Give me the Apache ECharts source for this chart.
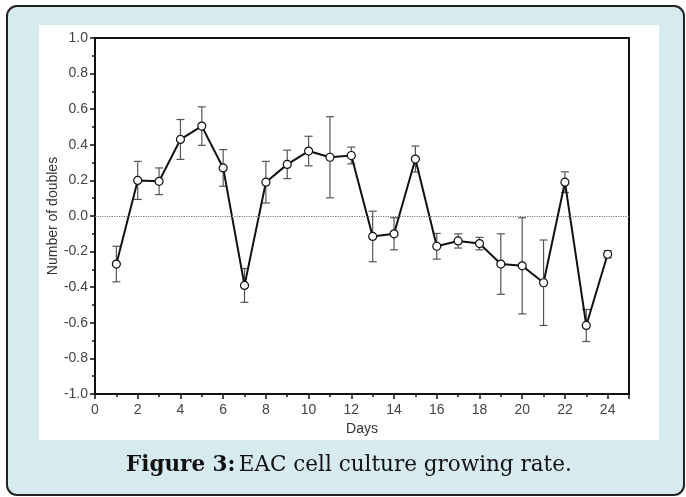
<!DOCTYPE html>
<html>
<head>
<meta charset="utf-8">
<script src="https://cdn.jsdelivr.net/npm/echarts@6/dist/echarts.min.js"></script>
<style>
  html, body { margin: 0; padding: 0; background: #fff; }
  #main { width: 686px; height: 497px; }
</style>
</head>
<body>
<div id="main"></div>
<script>
// data
var days = [1, 2, 3, 4, 5, 6, 7, 8, 9, 10, 11, 12, 13, 14, 15, 16, 17, 18, 19, 20, 21, 22, 23, 24];
var doubles = [-0.27, 0.20, 0.195, 0.43, 0.505, 0.27, -0.39, 0.19, 0.29, 0.365, 0.33, 0.34,
               -0.115, -0.10, 0.32, -0.17, -0.14, -0.155, -0.27, -0.28, -0.375, 0.19, -0.615, -0.215];
var errors = [0.10, 0.107, 0.075, 0.112, 0.108, 0.103, 0.095, 0.117, 0.08, 0.083, 0.228, 0.047,
              0.142, 0.09, 0.073, 0.072, 0.04, 0.035, 0.17, 0.27, 0.24, 0.058, 0.09, 0.02];
var xTickLabels = ['0', '2', '4', '6', '8', '10', '12', '14', '16', '18', '20', '22', '24'];

var myChart = echarts.init(document.getElementById('main'));

var lineData = days.map(function (d, i) { return [d, doubles[i]]; });
var errData = days.map(function (d, i) { return [d, doubles[i] - errors[i], doubles[i] + errors[i]]; });

function renderErr(params, api) {
    var x = api.value(0);
    var lo = api.coord([x, api.value(1)]);
    var hi = api.coord([x, api.value(2)]);
    var hw = 4;
    var st = { stroke: '#555', lineWidth: 1.2 };
    return {
        type: 'group',
        children: [
            { type: 'line', shape: { x1: hi[0], y1: hi[1], x2: lo[0], y2: lo[1] }, style: st },
            { type: 'line', shape: { x1: hi[0] - hw, y1: hi[1], x2: hi[0] + hw, y2: hi[1] }, style: st },
            { type: 'line', shape: { x1: lo[0] - hw, y1: lo[1], x2: lo[0] + hw, y2: lo[1] }, style: st }
        ]
    };
}

var font = 'Liberation Sans';

var option = {
    animation: false,
    graphic: [
        { // outer frame
            type: 'rect', z: -10,
            shape: { x: 7, y: 6, width: 677, height: 489, r: 10 },
            style: { fill: '#d6eaf0', stroke: '#222', lineWidth: 2 }
        },
        { // white panel
            type: 'rect', z: -9,
            shape: { x: 39, y: 25, width: 620, height: 415 },
            style: { fill: '#fff' }
        },
        {
            type: 'text', left: 126, top: 454,
            style: {
                text: '{b|Figure 3:} {n|EAC cell culture growing rate.}',
                rich: {
                    b: { fontFamily: 'DejaVu Serif', fontSize: 21.5, fontWeight: 'bold', fill: '#111' },
                    n: { fontFamily: 'DejaVu Serif', fontSize: 21.5, fill: '#111' }
                }
            }
        }
    ],
    grid: {
        left: 95, top: 38, width: 534, height: 356,
        show: true, borderColor: '#111', borderWidth: 2, backgroundColor: 'transparent'
    },
    xAxis: [
        {
            type: 'value', min: 0, max: 25, interval: 1, position: 'bottom',
            name: 'Days', nameLocation: 'middle', nameGap: 28, nameMoveOverlap: false,
            nameTextStyle: { fontFamily: font, fontSize: 14, color: '#333' },
            axisLine: { onZero: false, lineStyle: { color: '#111', width: 2 } },
            axisTick: { length: 3, lineStyle: { color: '#111', width: 1.5 } },
            axisLabel: {
                margin: 9, fontFamily: font, fontSize: 14, color: '#444',
                formatter: function (v) { return xTickLabels.indexOf(String(v)) >= 0 ? String(v) : ''; }
            },
            splitLine: { show: false }
        },
        { // longer ticks at the labelled days
            type: 'value', min: 0, max: 25, interval: 2, position: 'bottom', offset: 0,
            axisLine: { show: false, onZero: false },
            axisTick: { show: true, length: 5, lineStyle: { color: '#111', width: 1.5 } },
            axisLabel: { show: false },
            splitLine: { show: false }
        }
    ],
    yAxis: {
        type: 'value', min: -1, max: 1, interval: 0.2,
        name: 'Number of doubles', nameLocation: 'middle', nameGap: 35, nameMoveOverlap: false,
        nameTextStyle: { fontFamily: font, fontSize: 14, color: '#333' },
        axisLine: { show: true, lineStyle: { color: '#111', width: 2 } },
        axisTick: { show: true, length: 5, lineStyle: { color: '#111', width: 1.5 } },
        minorTick: { show: true, splitNumber: 2, length: 3, lineStyle: { color: '#111', width: 1.5 } },
        axisLabel: {
            margin: 7, fontFamily: font, fontSize: 14, color: '#444',
            formatter: function (v) { return v.toFixed(1); }
        },
        splitLine: { show: false }
    },
    series: [
        {
            type: 'custom', z: 1,
            renderItem: renderErr,
            data: errData,
            encode: { x: 0, y: [1, 2] }
        },
        {
            type: 'line', z: 3,
            data: lineData,
            symbol: 'circle', symbolSize: 8,
            lineStyle: { color: '#111', width: 2 },
            itemStyle: { color: '#fff', borderColor: '#111', borderWidth: 1.2 },
            markLine: {
                silent: true, symbol: 'none', label: { show: false },
                lineStyle: { color: '#777', type: 'dotted', width: 1.2 },
                data: [{ yAxis: 0 }]
            }
        }
    ]
};

myChart.setOption(option);
</script>
</body>
</html>
